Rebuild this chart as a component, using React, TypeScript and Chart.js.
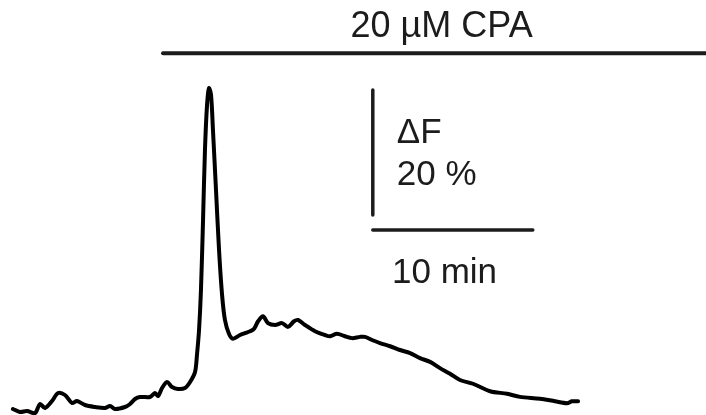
import React, { useEffect, useRef } from "react";
import { Chart, registerables } from "chart.js";

Chart.register(...registerables);

// time in minutes
const traceTime = [
  0.81, 1.25, 1.69, 2.19, 2.5, 2.81, 3.25, 3.63, 4.06, 4.5, 4.81, 5.31, 5.94, 6.56, 6.88, 7.19,
  7.81, 8.13, 8.44, 8.75, 9.38, 9.69, 9.88, 10.13, 10.44, 10.75, 11.13, 11.56, 11.88, 12.19,
  12.31, 12.44, 12.56, 12.69, 12.81, 12.94, 13.06, 13.19, 13.31, 13.5, 13.69, 13.88, 14.06,
  14.31, 14.56, 15.0, 15.31, 15.63, 15.88, 16.13, 16.44, 16.75, 17.19, 17.63, 18.0, 18.38,
  18.63, 19.06, 19.69, 20.31, 20.63, 21.06, 21.56, 22.0, 22.5, 22.81, 23.25, 23.75, 24.38,
  25.0, 25.63, 26.25, 26.88, 27.5, 28.13, 28.75, 29.56, 30.63, 31.69, 32.5, 33.75, 34.69,
  35.44, 35.75, 36.13,
];
// ΔF in %
const traceDeltaF = [
  0.96, 0.48, 0.64, 0.32, 1.76, 1.12, 2.24, 3.52, 3.2, 1.92, 2.24, 1.6, 1.28, 1.12, 1.44, 0.96,
  1.28, 1.76, 2.56, 2.88, 2.88, 3.52, 3.04, 4.32, 5.28, 4.48, 4.16, 4.32, 5.28, 6.88,
  9.6, 13.6, 20.0, 31.2, 42.4, 49.6, 52.3, 51.2, 45.6, 36.0, 26.4, 19.2, 15.2,
  13.0, 12.2, 12.8, 13.1, 13.4, 13.8, 15.0, 15.8, 14.7, 14.4, 14.7, 14.1, 15.0,
  15.2, 14.4, 13.4, 12.8, 12.6, 13.0, 12.6, 12.3, 12.5, 12.5, 12.0, 11.5, 11.0,
  10.4, 9.9, 9.1, 8.5, 7.5, 6.6, 5.6, 5.0, 3.8, 3.4, 2.9, 2.6, 2.2,
  1.9, 2.2, 2.2,
];

// drug application bar
const drugLabel = "20 µM CPA";
const drugStart = 10.19;
const drugEnd = 44.2;
const drugLevel = 57.9;

// scale bars
const scaleX0 = 23.3;
const scaleMinutes = 10;
const scaleTimeLevel = 29.6;
const scaleYTop = 52.0;
const scaleDeltaF = 20;
const scaleLabelF = ["ΔF", "20 %"];
const scaleLabelT = "10 min";

const X_MAX = 44.125;
const Y_MAX = 66.4;

export default function App() {
  const ref = useRef<HTMLCanvasElement | null>(null);
  useEffect(() => {
    if (!ref.current) return;
    const textPlugin = {
      id: "labels",
      afterDraw(chart: any) {
        const { ctx, scales } = chart;
        const xs = scales.x;
        const ys = scales.y;
        ctx.save();
        ctx.fillStyle = "#1c1c1c";
        ctx.textBaseline = "alphabetic";
        ctx.font = "36px 'Liberation Sans', Arial, sans-serif";
        ctx.textAlign = "center";
        ctx.fillText(drugLabel, xs.getPixelForValue(27.6), ys.getPixelForValue(drugLevel + 2.6));
        ctx.font = "35px 'Liberation Sans', Arial, sans-serif";
        ctx.textAlign = "left";
        ctx.fillText(scaleLabelF[0], xs.getPixelForValue(scaleX0 + 1.5), ys.getPixelForValue(43.5));
        ctx.fillText(scaleLabelF[1], xs.getPixelForValue(scaleX0 + 1.5), ys.getPixelForValue(36.8));
        ctx.fillText(scaleLabelT, xs.getPixelForValue(scaleX0 + 1.2), ys.getPixelForValue(21.2));
        ctx.restore();
      },
    };
    const chart = new Chart(ref.current, {
      type: "line",
      data: {
        datasets: [
          {
            data: traceTime.map((t, i) => ({ x: t, y: traceDeltaF[i] })),
            borderColor: "#000",
            borderWidth: 4,
            pointRadius: 0,
            tension: 0.3,
            borderJoinStyle: "round",
            borderCapStyle: "round",
          },
          {
            data: [
              { x: drugStart, y: drugLevel },
              { x: drugEnd, y: drugLevel },
            ],
            borderColor: "#1c1c1c",
            borderWidth: 4,
            pointRadius: 0,
            borderCapStyle: "round",
          },
          {
            data: [
              { x: scaleX0, y: scaleYTop },
              { x: scaleX0, y: scaleYTop - scaleDeltaF },
            ],
            borderColor: "#1c1c1c",
            borderWidth: 3.5,
            pointRadius: 0,
            borderCapStyle: "round",
          },
          {
            data: [
              { x: scaleX0, y: scaleTimeLevel },
              { x: scaleX0 + scaleMinutes, y: scaleTimeLevel },
            ],
            borderColor: "#1c1c1c",
            borderWidth: 3.5,
            pointRadius: 0,
            borderCapStyle: "round",
          },
        ],
      },
      options: {
        animation: false,
        responsive: false,
        layout: { padding: 0 },
        plugins: { legend: { display: false }, tooltip: { enabled: false } },
        scales: {
          x: { type: "linear", min: 0, max: X_MAX, display: false },
          y: { type: "linear", min: 0, max: Y_MAX, display: false },
        },
      },
      plugins: [textPlugin],
    } as any);
    return () => chart.destroy();
  }, []);
  return (
    <div style={{ position: "fixed", left: 0, top: 0, width: 706, height: 415, background: "#fff" }}>
      <canvas ref={ref} width={706} height={415} style={{ display: "block" }} />
    </div>
  );
}
